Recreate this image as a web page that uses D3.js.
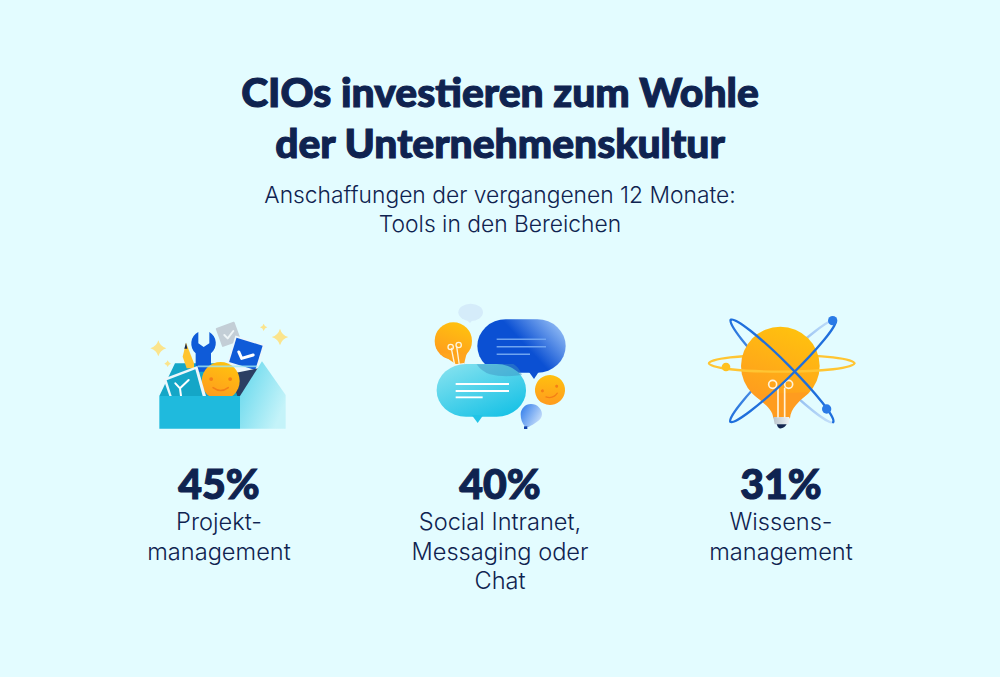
<!DOCTYPE html>
<html>
<head>
<meta charset="utf-8">
<script src="https://cdn.jsdelivr.net/npm/d3@7"></script>
<style>
    html, body { margin: 0; padding: 0; background: #e3fcff; }
    svg { display: block; }
    text { text-anchor: middle; fill: #0f2350; }
    .title { font-family: Lato; font-weight: 900; font-size: 40.8px; stroke: #0f2350; stroke-width: 1.1px; }
    .sub { font-family: Inter; font-weight: 300; font-size: 22.8px; }
    .label { font-family: Inter; font-weight: 300; font-size: 23.6px; }
    .value { font-family: Lato; font-weight: 900; font-size: 41px; stroke: #0f2350; stroke-width: 1.1px; }
</style>
</head>
<body>
<script>
const titleLines = ["CIOs investieren zum Wohle", "der Unternehmenskultur"];
const subtitleLines = ["Anschaffungen der vergangenen 12 Monate:", "Tools in den Bereichen"];
const categories = ["projekt", "social", "wissen"];
const values = [45, 40, 31];
const labelLines = [
    ["Projekt-", "management"],
    ["Social Intranet,", "Messaging oder", "Chat"],
    ["Wissens-", "management"]
];

const svg = d3.select("body").append("svg").attr("width", 1000).attr("height", 677);
const defs = svg.append("defs");

function gradient(id, x1, y1, x2, y2, from, to) {
    const g = defs.append("linearGradient").attr("id", id)
        .attr("x1", x1).attr("y1", y1).attr("x2", x2).attr("y2", y2);
    g.append("stop").attr("offset", 0).attr("stop-color", from);
    g.append("stop").attr("offset", 1).attr("stop-color", to);
}
gradient("orange", 0.7, 0, 0.3, 1, "#ffc20e", "#ff9a1f");
gradient("flap", 0, 0, 1, 0.6, "#5fd6ec", "#c4f3f9");
gradient("blueBubble", 0.55, 0.5, 1, 0.25, "#0b50d3", "#8db8f4");
gradient("cyanBubble", 0, 0, 0.7, 1, "#8ce4f0", "#1cc3e6");
gradient("balloon", 0, 0, 1, 0.6, "#2a78ea", "#c4dcfa");
gradient("base", 0, 0, 1, 0, "#b9c4cc", "#eef3f5");
gradient("orbitFade", 0, 0, 1, 0, "#1f6fdc", "#c4e0fa");

const x = d3.scalePoint().domain(categories).range([219, 781]);

// header
const header = svg.append("g");
titleLines.forEach((t, i) => header.append("text").attr("class", "title").attr("x", 500).attr("y", 107 + i * 51).text(t));
subtitleLines.forEach((t, i) => header.append("text").attr("class", "sub").attr("x", 500).attr("y", 203 + i * 29).text(t));

// values and labels
categories.forEach((c, i) => {
    const col = svg.append("g").attr("transform", `translate(${x(c)},0)`);
    col.append("text").attr("class", "value").attr("y", 499).text(values[i] + "%");
    labelLines[i].forEach((t, j) => col.append("text").attr("class", "label").attr("y", 530 + j * 29.5).text(t));
});

// icons are drawn in the coordinates of a 3x crop, so scale them back down
function icon(left, top) {
    return svg.append("g").attr("transform", `translate(${left},${top}) scale(${1 / 3})`);
}
function shape(g, d, fill) {
    return g.append("path").attr("d", d).attr("fill", fill);
}
function stroke(g, d, color, w) {
    return g.append("path").attr("d", d).attr("fill", "none").attr("stroke", color)
        .attr("stroke-width", w).attr("stroke-linecap", "round").attr("stroke-linejoin", "round");
}
function star(g, cx, cy, r) {
    const k = r * 0.22;
    shape(g, `M${cx},${cy - r}Q${cx + k},${cy - k} ${cx + r},${cy}Q${cx + k},${cy + k} ${cx},${cy + r}Q${cx - k},${cy + k} ${cx - r},${cy}Q${cx - k},${cy - k} ${cx},${cy - r}Z`, "#fbe48c");
}
function smiley(g, cx, cy, r, rot) {
    const f = g.append("g").attr("transform", `translate(${cx},${cy}) rotate(${rot})`);
    f.append("circle").attr("r", r).attr("fill", "url(#orange)");
    f.append("circle").attr("cx", -r * 0.5).attr("cy", -r * 0.1).attr("r", r * 0.1).attr("fill", "#f47f16");
    f.append("circle").attr("cx", r * 0.5).attr("cy", -r * 0.1).attr("r", r * 0.1).attr("fill", "#f47f16");
    stroke(f, `M${-r * 0.4},${r * 0.35}Q0,${r * 0.65} ${r * 0.4},${r * 0.35}`, "#f47f16", r * 0.08);
}

// toolbox
const box = icon(130, 300);
star(box, 85, 145, 24); star(box, 113, 191, 10); star(box, 450, 111, 25); star(box, 401, 82, 11);
shape(box, "M88,288L135,190L330,190L330,288Z", "#14a6c7");
box.append("rect").attr("x", -30).attr("y", -30).attr("width", 60).attr("height", 60).attr("rx", 3)
    .attr("transform", "translate(295,103) rotate(-20)").attr("fill", "#c3ced6");
stroke(box, "M283,105L293,115L310,93", "#eef5f7", 6);
// wrench
shape(box, "M197,160A39,39 0 0 1 205,96L205,130L221,141L238,130L238,96A39,39 0 0 1 243,160L243,215L197,215Z", "#0f5bd8");
// pencil
shape(box, "M158,170L168,128L192,190L192,205L170,205Z", "#ffc42e");
shape(box, "M163,146L168,128L172,146Z", "#14264f");
// blue card
const card = box.append("g").attr("transform", "translate(345,170) rotate(17)");
card.append("rect").attr("x", -46).attr("y", -52).attr("width", 92).attr("height", 112).attr("fill", "#ecf7fb");
card.append("rect").attr("x", -41).attr("y", -47).attr("width", 82).attr("height", 76).attr("fill", "#0f5bd8");
stroke(card, "M-22,-8L-8,8L22,-12", "#fff", 9);
shape(box, "M300,222L385,205L360,288L322,288Z", "#2b3f63");
smiley(box, 272, 243, 57, 0);
shape(box, "M100,236L202,198L228,288L118,288Z", "#ecf7fb");
shape(box, "M110,241L196,208L218,288L125,288Z", "#14a6c7");
stroke(box, "M153,288L150,265L176,240M150,265L136,250", "#fff", 6);
shape(box, "M88,288L330,288L330,386L88,386Z", "#1fbadd");
shape(box, "M330,288L396,184L467,285L467,386L330,386Z", "url(#flap)");
stroke(box, "M205,199L380,199", "#9fe8f4", 5).attr("opacity", 0.8);

// speech bubbles
const chat = icon(420, 295);
chat.append("ellipse").attr("cx", 152).attr("cy", 52).attr("rx", 37).attr("ry", 26).attr("fill", "#d5ecfa");
shape(chat, "M140,75L150,84L158,75Z", "#d5ecfa");
chat.append("circle").attr("cx", 100).attr("cy", 138).attr("r", 56).attr("fill", "url(#orange)");
shape(chat, "M60,175L140,175L132,208L108,208Z", "#ffa51e");
stroke(chat, "M104,210L94,160M118,210L110,155", "#fff5dc", 4);
chat.append("circle").attr("cx", 92).attr("cy", 156).attr("r", 8).attr("fill", "none").attr("stroke", "#fff5dc").attr("stroke-width", 4);
chat.append("circle").attr("cx", 116).attr("cy", 150).attr("r", 8).attr("fill", "none").attr("stroke", "#fff5dc").attr("stroke-width", 4);
shape(chat, "M106,208L132,204L133,220L110,224Z", "#f2f7f9");
chat.append("rect").attr("x", 172).attr("y", 73).attr("width", 265).attr("height", 160).attr("rx", 85).attr("ry", 80).attr("fill", "url(#blueBubble)");
shape(chat, "M325,228L342,252L358,228Z", "#0d52d2");
[133, 155, 178].forEach((y, i) => stroke(chat, `M230,${y}L${i == 2 ? 330 : 378},${y}`, "#6fa4f0", 4.5).attr("stroke-linecap", "butt"));
chat.append("rect").attr("x", 50).attr("y", 207).attr("width", 268).attr("height", 158).attr("rx", 88).attr("ry", 78).attr("fill", "url(#cyanBubble)");
shape(chat, "M155,360L173,384L190,360Z", "#22c4e6");
shape(chat, "M170,208L280,207Q296,215 306,240Q250,248 210,238Q185,230 170,208Z", "#3d8fc0").attr("opacity", 0.45);
[267, 288, 307].forEach((y, i) => stroke(chat, `M107,${y}L${i == 2 ? 188 : 267},${y}`, "#fff", 5.5).attr("stroke-linecap", "butt"));
smiley(chat, 390, 285, 45, -18);
shape(chat, "M333,327C352,327 366,342 366,358C366,376 340,388 326,396L316,396C306,385 302,372 302,358C302,342 315,327 333,327Z", "url(#balloon)");
chat.append("rect").attr("x", 312).attr("y", 394).attr("width", 10).attr("height", 8).attr("fill", "#0f3fa8");

// bulb and orbits
const atom = icon(700, 305);
function orbit(cx, cy, rx, ry, rot, sweep, color, w) {
    return stroke(atom.append("g").attr("transform", `translate(${cx},${cy}) rotate(${rot})`),
        `M${-rx},0A${rx},${ry} 0 0 ${sweep} ${rx},0`, color, w);
}
orbit(245, 175, 218, 25, 0, 1, "#ffc533", 7);
orbit(246, 198, 217, 26, 45, 0, "url(#orbitFade)", 7);
orbit(249, 198, 219, 26, -44, 1, "url(#orbitFade)", 7);
atom.append("circle").attr("cx", 241).attr("cy", 183).attr("r", 118).attr("fill", "url(#orange)");
shape(atom, "M160,268C190,295 218,310 220,340L270,340C272,310 298,290 325,262Z", "#ff9c1f");
shape(atom, "M220,336L268,336L266,358L224,358Z", "url(#base)");
shape(atom, "M230,358L260,358Q252,372 238,370Q232,366 230,358Z", "#14264f");
stroke(atom, "M234,336L234,250M254,336L254,250", "#fff3d9", 5);
[218, 266].forEach(c => atom.append("circle").attr("cx", c).attr("cy", 238).attr("r", 12)
    .attr("fill", "none").attr("stroke", "#fff3d9").attr("stroke-width", 5));
orbit(245, 175, 218, 25, 0, 0, "#ffc533", 7);
orbit(246, 198, 217, 26, 45, 1, "#1f6fdc", 7);
orbit(249, 198, 219, 26, -44, 0, "#1f6fdc", 7);
atom.append("circle").attr("cx", 398).attr("cy", 47).attr("r", 14).attr("fill", "#2a7ae6");
atom.append("circle").attr("cx", 380).attr("cy", 312).attr("r", 14).attr("fill", "#2a7ae6");
atom.append("circle").attr("cx", 78).attr("cy", 186).attr("r", 13).attr("fill", "#ffc11f");
</script>
</body>
</html>
